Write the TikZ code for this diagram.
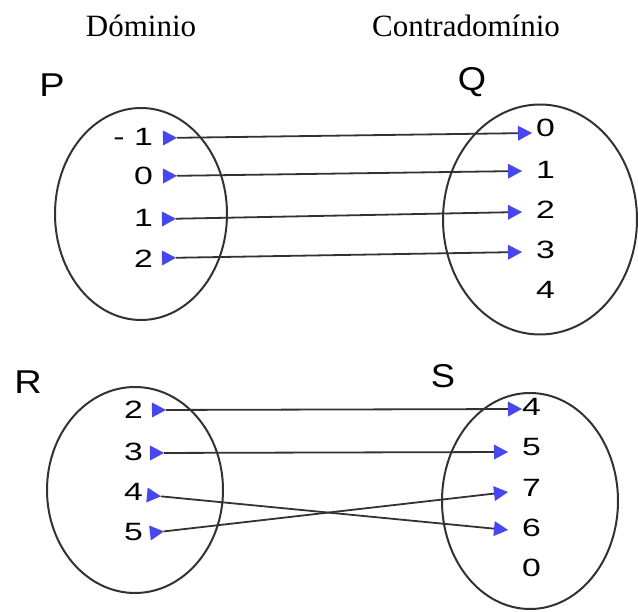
\documentclass[tikz,border=0pt]{standalone}
\usepackage{fontspec}
\setmainfont{Liberation Serif}
\newfontfamily\arialf{Liberation Sans}
\usepackage{graphicx}
\usetikzlibrary{arrows.meta,shapes.geometric}
\definecolor{tipblue}{RGB}{70,70,245}
\definecolor{linegray}{RGB}{50,50,50}
\newcommand\widetxt[2]{\scalebox{#1}[1]{#2}}
\tikzset{
  setellipse/.style={draw=linegray, line width=2pt, ellipse, inner sep=0pt},
  titletxt/.style={font=\fontsize{31}{31}\selectfont, inner sep=0pt, anchor=base},
  setname/.style={font=\arialf\fontsize{33}{33}\selectfont, inner sep=0pt},
  elem/.style={font=\arialf\fontsize{25}{25}\selectfont, inner sep=0pt},
  link/.style={draw=linegray, line width=1.8pt,
    {Triangle[reversed,length=14pt,width=15pt,color=tipblue,line width=0pt]}-{Triangle[length=14pt,width=15pt,color=tipblue,line width=0pt]}}
}
\begin{document}
\begin{tikzpicture}[x=1pt,y=-1pt]
\useasboundingbox (0,0) rectangle (638,612);
% titles
\node[titletxt] (tdom) at (141,37) {Dóminio};
\node[titletxt] (tcod) at (466,37) {Contradomínio};
% set names
\node[setname] (nP) at (52,85) {\widetxt{1.15}{P}};
\node[setname] (nQ) at (472,82) {\widetxt{1.1}{Q}};
\node[setname] (nR) at (28,382) {\widetxt{1.15}{R}};
\node[setname] (nS) at (443,376) {\widetxt{1.1}{S}};
% ellipses
\node[setellipse, minimum width=172pt, minimum height=212pt] (P) at (141,214) {};
\node[setellipse, minimum width=194pt, minimum height=230pt] (Q) at (540,219.5) {};
\node[setellipse, minimum width=176pt, minimum height=206pt] (R) at (135,490) {};
\node[setellipse, minimum width=176pt, minimum height=216pt] (S) at (530,501) {};
% P elements
\node[elem, anchor=east] (pm1) at (153,137) {\widetxt{1.35}{- 1}};
\node[elem, anchor=east] (p0) at (153,176) {\widetxt{1.35}{0}};
\node[elem, anchor=east] (p1) at (153,218) {\widetxt{1.35}{1}};
\node[elem, anchor=east] (p2) at (153,259) {\widetxt{1.35}{2}};
% Q elements
\node[elem, anchor=west] (q0) at (536,128) {\widetxt{1.35}{0}};
\node[elem, anchor=west] (q1) at (536,170) {\widetxt{1.35}{1}};
\node[elem, anchor=west] (q2) at (536,210) {\widetxt{1.35}{2}};
\node[elem, anchor=west] (q3) at (536,250) {\widetxt{1.35}{3}};
\node[elem, anchor=west] (q4) at (536,290) {\widetxt{1.35}{4}};
% R elements
\node[elem, anchor=east] (r2) at (143,410) {\widetxt{1.35}{2}};
\node[elem, anchor=east] (r3) at (143,452) {\widetxt{1.35}{3}};
\node[elem, anchor=east] (r4) at (143,492) {\widetxt{1.35}{4}};
\node[elem, anchor=east] (r5) at (143,532) {\widetxt{1.35}{5}};
% S elements
\node[elem, anchor=west] (s4) at (522,407) {\widetxt{1.35}{4}};
\node[elem, anchor=west] (s5) at (522,447) {\widetxt{1.35}{5}};
\node[elem, anchor=west] (s7) at (522,488) {\widetxt{1.35}{7}};
\node[elem, anchor=west] (s6) at (522,528) {\widetxt{1.35}{6}};
\node[elem, anchor=west] (s0) at (522,568) {\widetxt{1.35}{0}};
% links P -> Q
\draw[link] ([xshift=10pt,yshift=-1pt]pm1.east) -- ([xshift=-4pt,yshift=-5pt]q0.west);
\draw[link] ([xshift=10pt]p0.east) -- ([xshift=-14pt,yshift=-1pt]q1.west);
\draw[link] ([xshift=9pt,yshift=-1pt]p1.east) -- ([xshift=-14pt,yshift=-2pt]q2.west);
\draw[link] ([xshift=9pt,yshift=1pt]p2.east) -- ([xshift=-14pt,yshift=-2pt]q3.west);
% links R -> S
\draw[link] ([xshift=9pt]r2.east) -- ([xshift=0pt,yshift=-2pt]s4.west);
\draw[link] ([xshift=7pt,yshift=-1pt]r3.east) -- ([xshift=-14pt,yshift=-5pt]s5.west);
\draw[link] ([xshift=4pt,yshift=-3pt]r4.east) -- ([xshift=-14pt,yshift=-2pt]s6.west);
\draw[link] ([xshift=7pt,yshift=-1pt]r5.east) -- ([xshift=-14pt,yshift=-4pt]s7.west);
\end{tikzpicture}
\end{document}
